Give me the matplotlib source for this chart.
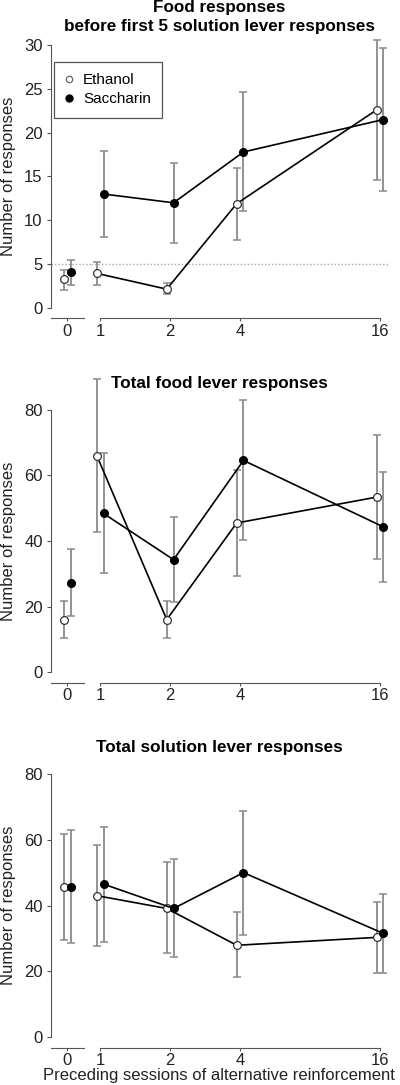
import matplotlib
matplotlib.use('Agg')
import matplotlib.pyplot as plt
import matplotlib.transforms as mtransforms
from matplotlib.lines import Line2D
import numpy as np

plt.rcParams['font.family'] = ['Liberation Sans', 'DejaVu Sans']
plt.rcParams['font.size'] = 12

sessions = [0, 1, 2, 4, 16]
session_labels = ['0', '1', '2', '4', '16']

# food responses before first 5 solution lever responses
food5_eth = [3.25, 3.95, 2.15, 11.9, 22.6]
food5_eth_lo = [2.1, 2.6, 1.65, 7.7, 14.6]
food5_eth_hi = [4.35, 5.2, 2.9, 16.0, 30.6]
food5_sac = [4.05, 13.0, 12.0, 17.8, 21.5]
food5_sac_lo = [2.6, 8.05, 7.45, 11.1, 13.4]
food5_sac_hi = [5.5, 17.9, 16.5, 24.6, 29.7]

# total food lever responses
food_eth = [16.0, 66.1, 16.0, 45.5, 53.4]
food_eth_lo = [10.4, 42.6, 10.4, 29.4, 34.6]
food_eth_hi = [21.8, 89.6, 21.6, 61.8, 72.3]
food_sac = [27.2, 48.4, 34.3, 64.6, 44.3]
food_sac_lo = [17.0, 30.2, 21.4, 40.2, 27.6]
food_sac_hi = [37.6, 66.9, 47.3, 83.2, 61.0]

# total solution lever responses
sol_eth = [45.7, 43.0, 39.1, 27.9, 30.3]
sol_eth_lo = [29.5, 27.8, 25.4, 18.1, 19.5]
sol_eth_hi = [61.8, 58.4, 53.2, 37.9, 41.0]
sol_sac = [45.7, 46.5, 39.1, 50.0, 31.5]
sol_sac_lo = [28.5, 29.0, 24.4, 31.0, 19.5]
sol_sac_hi = [63.0, 63.8, 54.1, 68.9, 43.5]

W, H = 400, 1085
fig = plt.figure(figsize=(W / 100, H / 100), dpi=100)

AXC = '#555555'
ERRC = '#8a8a8a'


def box(l, t, r, b):
    return [l / W, 1 - b / H, (r - l) / W, (b - t) / H]


def panel(top, bottom, title_lines, title_base, ymax, yticks, eth, eth_lo, eth_hi, sac, sac_lo, sac_hi, hline=None):
    ylim = (-0.04 * ymax, 1.04 * ymax)
    ax0 = fig.add_axes(box(51, top, 91, bottom))
    ax1 = fig.add_axes(box(91, top, 390, bottom))
    ax1.set_xscale('log', base=2)
    ax0.set_xlim(-1, 1.5)
    ax1.set_xlim(0.915, 17.7)
    for ax in (ax0, ax1):
        ax.set_ylim(*ylim)
        for s in ('top', 'right', 'left'):
            ax.spines[s].set_visible(False)
        ax.spines['bottom'].set_color(AXC)
        ax.tick_params(axis='x', which='both', length=2.5, width=0.8, color=AXC, pad=1.5, labelcolor='#222222')
        ax.minorticks_off()
        ax.patch.set_visible(False)
    ax0.spines['left'].set_visible(True)
    ax0.spines['left'].set_color(AXC)
    ax0.spines['left'].set_bounds(0, ymax)
    ax0.spines['bottom'].set_bounds(-1, 1.06)
    ax1.spines['bottom'].set_bounds(1, 16)
    ax0.set_yticks(yticks)
    ax0.tick_params(axis='y', length=3, width=0.8, color=AXC, pad=3, labelcolor='#222222')
    ax1.set_yticks([])
    ax0.set_xticks([0])
    ax0.set_xticklabels([session_labels[0]])
    ax1.set_xticks(sessions[1:])
    ax1.set_xticklabels(session_labels[1:])

    if hline is not None:
        for ax in (ax0, ax1):
            ax.axhline(hline, color='#aaaaaa', lw=1, ls=(0, (1, 1.5)), zorder=1)

    series = [
        (eth, eth_lo, eth_hi, -2.3, 'white', '#333333'),
        (sac, sac_lo, sac_hi, 2.6, 'black', 'black'),
    ]
    for ax, sl in ((ax0, slice(0, 1)), (ax1, slice(1, None))):
        for vals, lo, hi, dx, face, edge in series:
            tr = mtransforms.offset_copy(ax.transData, fig=fig, x=dx, y=0, units='points')
            x = np.array(sessions[sl], dtype=float)
            y = np.array(vals[sl])
            yerr = [y - np.array(lo[sl]), np.array(hi[sl]) - y]
            ax.errorbar(x, y, yerr=yerr, fmt='none', ecolor=ERRC, elinewidth=1.3,
                        capsize=3, capthick=1.1, transform=tr, clip_on=False, zorder=2)
        for vals, lo, hi, dx, face, edge in series:
            tr = mtransforms.offset_copy(ax.transData, fig=fig, x=dx, y=0, units='points')
            x = np.array(sessions[sl], dtype=float)
            y = np.array(vals[sl])
            ax.plot(x, y, color='black', lw=1.2, marker='o', ms=5.6, mfc=face, mec=edge,
                    mew=0.9, transform=tr, clip_on=False, zorder=3)

    for line, base in zip(title_lines, title_base):
        fig.text(219 / W, 1 - base / H, line, ha='center', va='baseline',
                 fontweight='bold', fontsize=12.3)
    fig.text(9 / W, 1 - (top + bottom) / 2 / H, 'Number of responses', rotation=90,
             ha='center', va='center', color='#222222')
    return ax0, ax1


panel(34.5, 318.5, ['Food responses', 'before first 5 solution lever responses'], [12, 31], 30,
      [0, 5, 10, 15, 20, 25, 30], food5_eth, food5_eth_lo, food5_eth_hi,
      food5_sac, food5_sac_lo, food5_sac_hi, hline=5)
panel(399.5, 682.5, ['Total food lever responses'], [388], 80, [0, 20, 40, 60, 80],
      food_eth, food_eth_lo, food_eth_hi, food_sac, food_sac_lo, food_sac_hi)
panel(763.5, 1047.5, ['Total solution lever responses'], [752], 80, [0, 20, 40, 60, 80],
      sol_eth, sol_eth_lo, sol_eth_hi, sol_sac, sol_sac_lo, sol_sac_hi)

fig.text(219 / W, 1 - 1080 / H, 'Preceding sessions of alternative reinforcement',
         ha='center', va='baseline', color='#222222')

handles = [
    Line2D([], [], ls='none', marker='o', ms=4.6, mfc='white', mec='#666666', mew=0.9),
    Line2D([], [], ls='none', marker='o', ms=5.0, mfc='black', mec='black'),
]
leg = fig.legend(handles, ['Ethanol', 'Saccharin'], loc='upper left',
                 bbox_to_anchor=(54 / W, 1 - 62 / H), borderaxespad=0, fancybox=False,
                 edgecolor='#555555', framealpha=1, handlelength=0.4, handletextpad=0.75,
                 labelspacing=0.3, borderpad=0.75, fontsize=11)
leg.get_frame().set_linewidth(0.9)

fig.savefig('out.png', dpi=100)
